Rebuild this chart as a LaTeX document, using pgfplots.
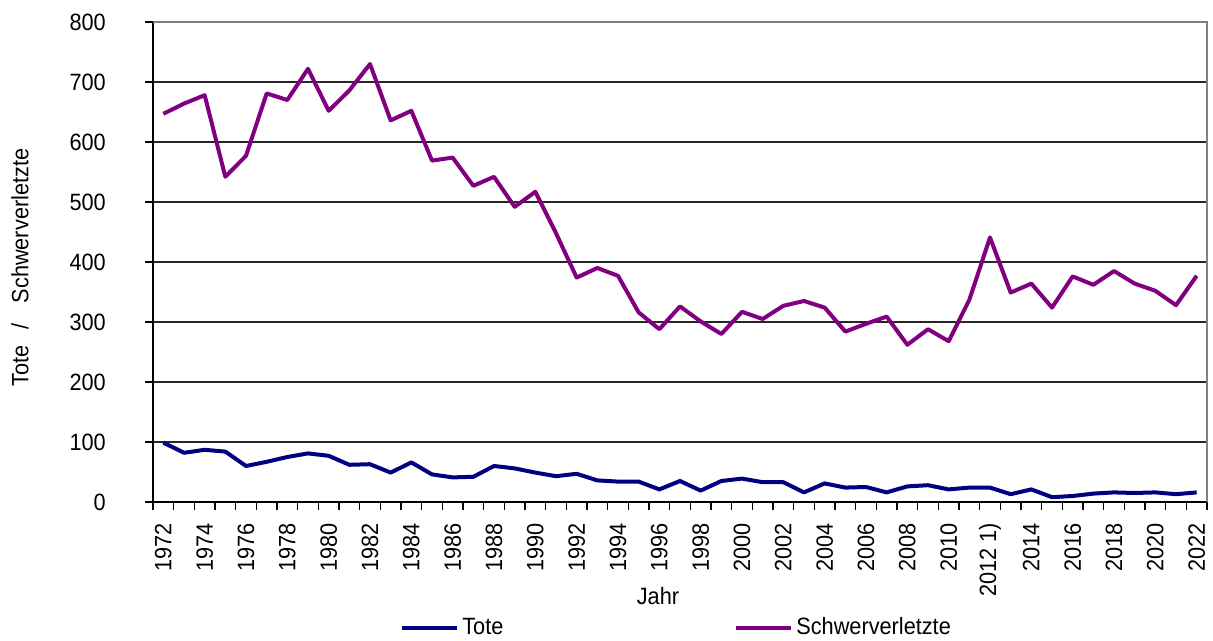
\documentclass[border=0pt]{standalone}
\usepackage{fontspec}
\setmainfont{Liberation Sans}[FakeStretch=0.92]
\usepackage{pgfplots}
\pgfplotsset{compat=1.18}
\definecolor{tote}{RGB}{0,0,128}
\definecolor{schwer}{RGB}{128,0,128}
\begin{document}
\fontsize{11.8pt}{14pt}\selectfont
\begin{tikzpicture}
\begin{axis}[
  scale only axis,
  width=527pt, height=240pt,
  xmin=1971.5, xmax=2022.5,
  ymin=0, ymax=800,
  ytick={0,100,...,800},
  xtick={1972,1974,...,2022},
  xticklabels={1972,1974,1976,1978,1980,1982,1984,1986,1988,1990,1992,1994,1996,1998,2000,2002,2004,2006,2008,2010,{2012 1)},2014,2016,2018,2020,2022},
  minor xtick={1971.5,1972.5,...,2022.5},
  major x tick style={draw=none},
  tick align=outside,
  major tick length=4pt,
  minor tick length=4pt,
  tick style={black, line width=0.6pt},
  axis x line*=bottom,
  axis y line*=left,
  axis line style={-, black, line width=1pt},
  ymajorgrids,
  major grid style={black!85, line width=0.6pt},
  /pgf/number format/assume math mode=true,
  xticklabel style={rotate=90, anchor=east},
  yticklabel style={anchor=east},
  xticklabel shift=2.5pt,
  yticklabel shift=15.5pt,
  legend columns=2,
  legend style={draw=none, fill=none, at={(rel axis cs:0.2343,-0.2625)}, anchor=west, inner sep=0pt, nodes={inner sep=1.5pt}, /tikz/every even column/.append style={column sep=114pt}},
  legend image code/.code={\draw[#1] (0pt,0pt) -- (27.5pt,0pt);},
  clip=false,
]
\addplot[tote, line width=2pt, line join=round] coordinates {
(1972,99) (1973,82) (1974,87) (1975,84) (1976,60) (1977,67) (1978,75) (1979,81) (1980,77) (1981,62)
(1982,63) (1983,49) (1984,66) (1985,46) (1986,41) (1987,42) (1988,60) (1989,56) (1990,49) (1991,43)
(1992,47) (1993,36) (1994,34) (1995,34) (1996,21) (1997,35) (1998,19) (1999,35) (2000,39) (2001,33)
(2002,33) (2003,16) (2004,31) (2005,24) (2006,25) (2007,16) (2008,26) (2009,28) (2010,21) (2011,24)
(2012,24) (2013,13) (2014,21) (2015,8) (2016,10) (2017,14) (2018,16) (2019,15) (2020,16) (2021,13)
(2022,16)
};
\addlegendentry{Tote}
\addplot[schwer, line width=2pt, line join=round] coordinates {
(1972,647) (1973,664) (1974,678) (1975,542) (1976,577) (1977,681) (1978,670) (1979,722) (1980,652) (1981,686)
(1982,730) (1983,636) (1984,652) (1985,569) (1986,574) (1987,527) (1988,542) (1989,492) (1990,517) (1991,448)
(1992,374) (1993,390) (1994,377) (1995,316) (1996,288) (1997,326) (1998,301) (1999,280) (2000,317) (2001,305)
(2002,327) (2003,335) (2004,324) (2005,284) (2006,297) (2007,309) (2008,262) (2009,288) (2010,268) (2011,337)
(2012,441) (2013,349) (2014,364) (2015,324) (2016,376) (2017,362) (2018,385) (2019,364) (2020,352) (2021,328)
(2022,377)
};
\addlegendentry{Schwerverletzte}
\draw[gray, line width=1.3pt] (rel axis cs:0,1) -- (rel axis cs:1,1) -- (rel axis cs:1,0);
\end{axis}
\node[rotate=90, anchor=center] at ([shift={(-66.5pt,117.25pt)}]current axis.south west) {Tote\hspace{8pt}/\hspace{10pt}Schwerverletzte};
\node[anchor=center] at ([shift={(252.5pt,-47.25pt)}]current axis.south west) {Jahr};
\pgfresetboundingbox
\path[use as bounding box] ([shift={(-76.5pt,-69.5pt)}]current axis.south west) rectangle ([shift={(530pt,251pt)}]current axis.south west);
\end{tikzpicture}
\end{document}
